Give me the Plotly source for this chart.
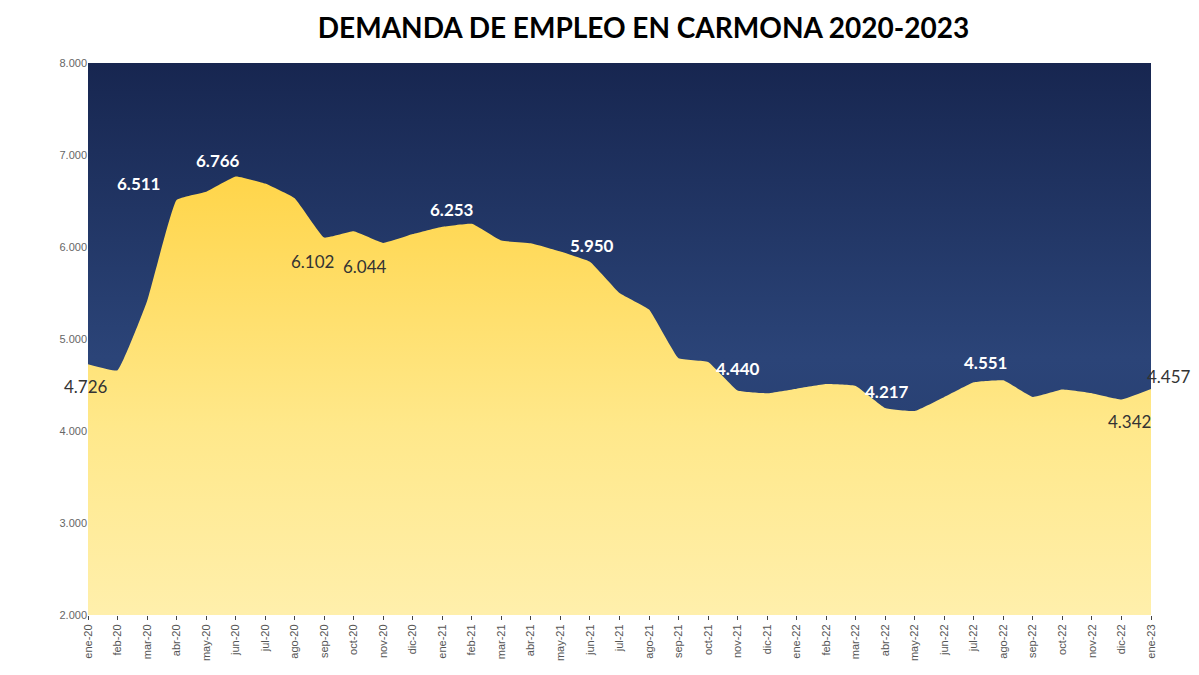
import plotly.graph_objects as go

months = ["ene","feb","mar","abr","may","jun","jul","ago","sep","oct","nov","dic"]
labels = [f"{m}-{y}" for y in ["20","21","22"] for m in months] + ["ene-23"]
values = [4726,4660,5410,6511,6600,6766,6690,6530,6102,6170,6044,6140,
          6220,6253,6070,6040,5950,5840,5500,5320,4790,4750,4440,4410,
          4460,4510,4490,4250,4217,4370,4530,4551,4370,4450,4410,4342,4457]
lab_idx = [0,3,5,8,10,13,16,22,28,31,35,36]
lab_white = [False,True,True,False,False,True,True,True,True,True,False,False]
lab_dx = [-2,-38,-18,-12,-18,-20,32,0,-28,-18,8,18]
lab_dy = [-22,16,16,-24,-24,14,6,22,20,18,-22,12]

fig = go.Figure()
fig.add_trace(go.Scatter(x=labels, y=[8000]*len(labels), mode="lines", line=dict(width=0),
    fill="tozeroy", fillgradient=dict(type="vertical",
    colorscale=[[0,"#1c2e5a"],[0.6,"#2b4478"],[1,"#172650"]]), hoverinfo="skip"))
fig.add_trace(go.Scatter(x=labels, y=values, mode="lines", line=dict(width=0, shape="spline", smoothing=0.3),
    fill="tozeroy", fillgradient=dict(type="vertical",
    colorscale=[[0,"#fff6cc"],[0.6,"#ffe88a"],[1,"#ffd54a"]])))
for i, w, dx, dy in zip(lab_idx, lab_white, lab_dx, lab_dy):
    v = values[i]
    fig.add_annotation(x=labels[i], y=v, text=f"{v/1000:.3f}",
        showarrow=False, xshift=dx, yshift=dy,
        font=dict(family="Lato", size=17, color="white" if w else "#333333",
                  weight="bold" if w else "normal"))
fig.update_layout(
    width=1199, height=675, paper_bgcolor="white", plot_bgcolor="#1f3564",
    separators=",.", showlegend=False,
    margin=dict(l=80, r=56, t=55, b=68),
    title=dict(text="DEMANDA DE EMPLEO EN CARMONA 2020-2023", x=0.53, y=0.985, yanchor="top",
               font=dict(family="Lato", size=28, color="black", weight="bold")),
    xaxis=dict(type="category", tickangle=-90, range=[0, 36], showgrid=False,
               tickfont=dict(family="Liberation Sans", size=11, color="#555"), ticks="outside", ticklen=4),
    yaxis=dict(range=[2000, 8000], dtick=1000, tickformat=",.0f", showgrid=False,
               tickfont=dict(family="Liberation Sans", size=11, color="#666")),
)
fig.write_html("out.html")
